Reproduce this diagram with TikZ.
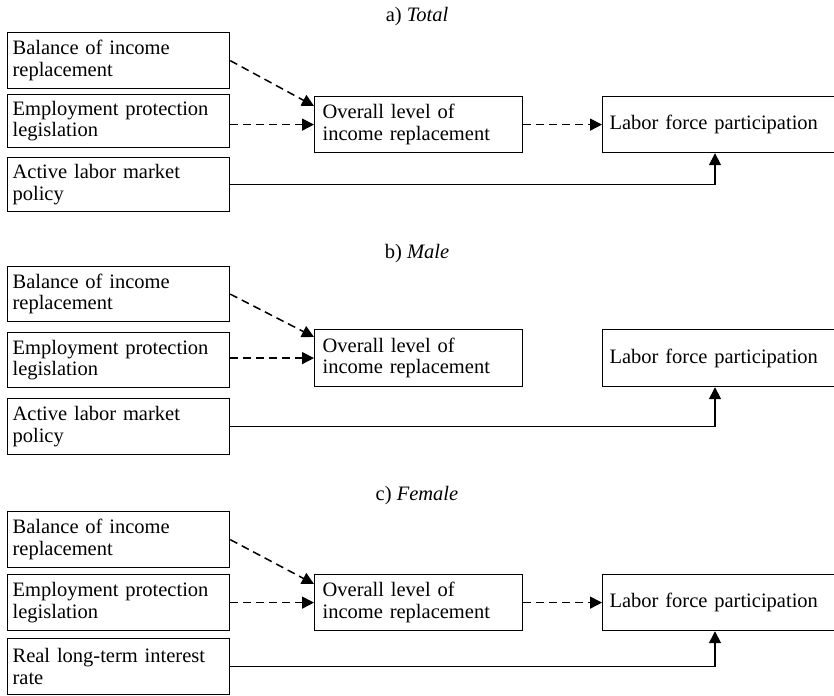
\documentclass[tikz,border=0pt]{standalone}
\usepackage{fontspec}
\setmainfont{Liberation Serif}
\usetikzlibrary{arrows.meta,calc}
\newcommand\figfont{\fontsize{20.5}{21.5}\selectfont}
\begin{document}
\begin{tikzpicture}[x=1pt,y=1pt,
  every node/.style={font=\figfont},
  basebox/.style={draw, line width=1.2pt, rectangle, anchor=north west, align=left, inner ysep=0pt},
  lbox/.style={basebox, inner xsep=5pt, text width=212pt},
  mbox/.style={basebox, inner xsep=8pt, text width=192pt, minimum height=56pt},
  rbox/.style={basebox, inner xsep=7pt, text width=300pt, minimum height=56pt},
  title/.style={anchor=center, inner sep=0pt},
  dasharrow/.style={line width=1.5pt, dash pattern=on 8pt off 5pt, -{Triangle[length=12pt,width=12pt]}},
  solidarrow/.style={line width=1.5pt, -{Triangle[length=12pt,width=12pt]}}]
\useasboundingbox (0,0) rectangle (834,-695);
\clip (0,0) rectangle (834,-695);

% ---------- a) Total
\node[title] (ta) at (417,-17) {a) \textit{Total}};
\node[lbox, minimum height=56pt] (a1) at (7,-32) {Balance of income\\replacement};
\node[lbox, minimum height=53pt] (a2) at (7,-94) {Employment protection\\legislation};
\node[lbox, minimum height=54pt] (a3) at (7,-157) {Active labor market\\policy};
\node[mbox] (am) at (314,-96) {Overall level of\\income replacement};
\node[rbox] (ar) at (602,-96) {Labor force participation};
\draw[dasharrow] (a1.east) -- ([yshift=-10pt]am.north west);
\draw[dasharrow] (am.west -| a2.east) -- (am.west);
\draw[dasharrow] (am.east) -- (ar.west);
\draw[solidarrow] (a3.east) -| ([xshift=113pt]ar.south west);

% ---------- b) Male
\node[title] (tb) at (417,-254) {b) \textit{Male}};
\node[lbox, minimum height=55pt] (b1) at (7,-266) {Balance of income\\replacement};
\node[lbox, minimum height=55pt] (b2) at (7,-332) {Employment protection\\legislation};
\node[lbox, minimum height=56pt] (b3) at (7,-398) {Active labor market\\policy};
\node[mbox, minimum height=57pt] (bm) at (314,-329) {Overall level of\\income replacement};
\node[rbox, minimum height=57pt] (br) at (602,-329) {Labor force participation};
\draw[dasharrow] (b1.east) -- ([yshift=-8pt]bm.north west);
\draw[dasharrow] (bm.west -| b2.east) -- (bm.west);
\draw[solidarrow] (b3.east) -| ([xshift=113pt]br.south west);

% ---------- c) Female
\node[title] (tc) at (417,-496) {c) \textit{Female}};
\node[lbox, minimum height=56pt] (c1) at (7,-511) {Balance of income\\replacement};
\node[lbox, minimum height=56pt] (c2) at (7,-574) {Employment protection\\legislation};
\node[lbox, minimum height=56pt] (c3) at (7,-638) {Real long-term interest\\rate};
\node[mbox] (cm) at (314,-574) {Overall level of\\income replacement};
\node[rbox] (cr) at (602,-574) {Labor force participation};
\draw[dasharrow] (c1.east) -- ([yshift=-10pt]cm.north west);
\draw[dasharrow] (cm.west -| c2.east) -- (cm.west);
\draw[dasharrow] (cm.east) -- (cr.west);
\draw[solidarrow] (c3.east) -| ([xshift=113pt]cr.south west);
\end{tikzpicture}
\end{document}
